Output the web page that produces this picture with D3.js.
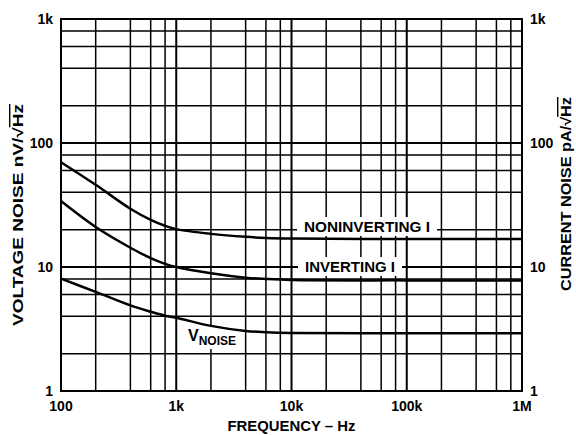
<!DOCTYPE html>
<html>
<head>
<meta charset="utf-8">
<script src="https://cdn.jsdelivr.net/npm/d3@7"></script>
<style>
  body { margin: 0; background: #fff; }
  text { font-family: "Liberation Sans", Arial, sans-serif; font-weight: bold; fill: #000; }
</style>
</head>
<body>
<div id="chart"></div>
<script>
// 频率点 (Hz)
const freq = [100, 200, 400, 600, 800, 1000, 2000, 4000, 6000, 10000, 100000, 1000000];
// 同相输入电流噪声 pA/√Hz
const nonInverting = [70, 46, 29.5, 24, 21.5, 20.2, 18.5, 17.5, 17.15, 16.95, 16.8, 16.8];
// 反相输入电流噪声 pA/√Hz
const inverting = [34, 21, 14.3, 11.8, 10.6, 10.0, 8.9, 8.2, 8.0, 7.85, 7.8, 7.8];
// 电压噪声 nV/√Hz
const vNoise = [8.05, 6.3, 4.9, 4.36, 4.05, 3.9, 3.35, 3.05, 2.98, 2.94, 2.92, 2.92];

const xTicks = [100, 1000, 10000, 100000, 1000000];
const xTickLabels = ["100", "1k", "10k", "100k", "1M"];
const yTicks = [1, 10, 100, 1000];
const yTickLabels = ["1", "10", "100", "1k"];

const W = 576, H = 435;
const margin = { top: 19, right: 54, bottom: 44, left: 61 };

const svg = d3.select("#chart").append("svg")
    .attr("width", W).attr("height", H);

const x = d3.scaleLog().domain([100, 1e6]).range([margin.left, W - margin.right]);
const y = d3.scaleLog().domain([1, 1000]).range([H - margin.bottom, margin.top]);

// 网格线：每个十倍频程内 2,4,6,8
const minorX = [], minorY = [];
xTicks.slice(0, -1).forEach(d => [2, 4, 6, 8].forEach(m => minorX.push(d * m)));
yTicks.slice(0, -1).forEach(d => [2, 4, 6, 8].forEach(m => minorY.push(d * m)));

const grid = svg.append("g").attr("stroke", "#000");
grid.selectAll(".vx").data(minorX).enter().append("line")
    .attr("x1", d => x(d)).attr("x2", d => x(d))
    .attr("y1", y(1)).attr("y2", y(1000)).attr("stroke-width", 1.5);
grid.selectAll(".hy").data(minorY).enter().append("line")
    .attr("y1", d => y(d)).attr("y2", d => y(d))
    .attr("x1", x(100)).attr("x2", x(1e6)).attr("stroke-width", 1.5);
grid.selectAll(".vmaj").data(xTicks).enter().append("line")
    .attr("x1", d => x(d)).attr("x2", d => x(d))
    .attr("y1", y(1)).attr("y2", y(1000)).attr("stroke-width", 2);
grid.selectAll(".hmaj").data(yTicks).enter().append("line")
    .attr("y1", d => y(d)).attr("y2", d => y(d))
    .attr("x1", x(100)).attr("x2", x(1e6)).attr("stroke-width", 2);

// 标签白底
function boxLabel(tx, ty, str, len) {
    const g = svg.append("g");
    const t = g.append("text").attr("x", tx).attr("y", ty)
        .attr("textLength", len).attr("lengthAdjust", "spacingAndGlyphs")
        .style("font-size", "15px").text(str);
    const b = t.node().getBBox();
    g.insert("rect", "text")
        .attr("x", b.x - 7).attr("y", b.y - 1)
        .attr("width", b.width + 14).attr("height", b.height + 2)
        .attr("fill", "#fff");
}
boxLabel(304, 232, "NONINVERTING I", 126);
boxLabel(305, 272, "INVERTING I", 90);

// V_NOISE 标签
const vg = svg.append("g");
const vt = vg.append("text").attr("x", 188).attr("y", 341).style("font-size", "16px");
vt.append("tspan").text("V");
vt.append("tspan").attr("dy", 4).style("font-size", "12px").text("NOISE");
const vb = vt.node().getBBox();
vg.insert("rect", "text")
    .attr("x", vb.x - 3).attr("y", vb.y - 1)
    .attr("width", vb.width + 6).attr("height", vb.height + 2)
    .attr("fill", "#fff");

// 曲线
const line = d3.line()
    .x((d, i) => x(freq[i]))
    .y(d => y(d))
    .curve(d3.curveCatmullRom.alpha(0.5));
[nonInverting, inverting, vNoise].forEach(s => {
    svg.append("path").datum(s)
        .attr("d", line)
        .attr("fill", "none")
        .attr("stroke", "#000")
        .attr("stroke-width", 2.5);
});

// 边框
svg.append("rect")
    .attr("x", x(100)).attr("y", y(1000))
    .attr("width", x(1e6) - x(100)).attr("height", y(1) - y(1000))
    .attr("fill", "none").attr("stroke", "#000").attr("stroke-width", 2);

// 坐标轴刻度标签
svg.selectAll(".xl").data(xTicks).enter().append("text")
    .attr("x", d => x(d)).attr("y", 411)
    .attr("text-anchor", "middle")
    .style("font-size", "14px")
    .text((d, i) => xTickLabels[i]);
svg.selectAll(".yl").data(yTicks).enter().append("text")
    .attr("x", 53).attr("y", d => y(d) + 5)
    .attr("text-anchor", "end")
    .style("font-size", "14px")
    .text((d, i) => yTickLabels[i]);
svg.selectAll(".yr").data(yTicks).enter().append("text")
    .attr("x", 530).attr("y", d => y(d) + 5)
    .attr("text-anchor", "start")
    .style("font-size", "14px")
    .text((d, i) => yTickLabels[i]);

// 轴标题
svg.append("text")
    .attr("x", x(1e4)).attr("y", 431)
    .attr("text-anchor", "middle")
    .attr("textLength", 128).attr("lengthAdjust", "spacingAndGlyphs")
    .style("font-size", "14px")
    .text("FREQUENCY – Hz");

function sqrtTitle(cx, cy, pre, unit, len) {
    const t = svg.append("text")
        .attr("transform", `translate(${cx},${cy}) rotate(-90)`)
        .attr("text-anchor", "middle")
        .attr("textLength", len).attr("lengthAdjust", "spacingAndGlyphs")
        .style("font-size", "14px");
    t.append("tspan").text(pre + "√");
    t.append("tspan").style("text-decoration", "overline").text(unit);
}
sqrtTitle(23, 215, "VOLTAGE NOISE nV/", "Hz", 222);
sqrtTitle(571, 194, "CURRENT NOISE pA/", "Hz", 194);
</script>
</body>
</html>
